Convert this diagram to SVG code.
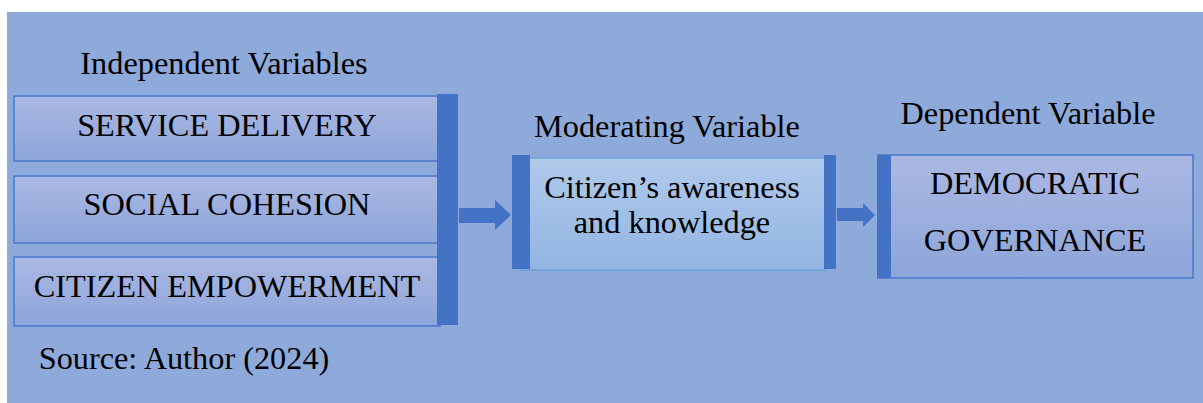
<svg xmlns="http://www.w3.org/2000/svg" width="1203" height="403" viewBox="0 0 1203 403">
<style>
text{font-family:"Liberation Serif","Times New Roman",serif;fill:#000;text-anchor:middle}
.t{font-size:32.3px}
.box{fill:url(#g1);stroke:#4a78cc;stroke-width:1.5}
.bar{fill:#4472c4}
.arr{fill:#4472c4}
</style>
<defs>
<linearGradient id="g1" x1="0" y1="0" x2="0" y2="1">
<stop offset="0" stop-color="#abb8e3"/>
<stop offset="1" stop-color="#8da5d9"/>
</linearGradient>
<linearGradient id="g2" x1="0" y1="0" x2="0" y2="1">
<stop offset="0" stop-color="#afc9ea"/>
<stop offset="1" stop-color="#93b5e3"/>
</linearGradient>
</defs>
<rect x="0" y="0" width="1203" height="403" fill="#fff"/>
<rect x="7" y="12" width="1196" height="391" fill="#8eaadb"/>
<text class="t" x="224" y="74">Independent Variables</text>
<text class="t" x="667" y="137">Moderating Variable</text>
<text class="t" x="1028" y="124">Dependent Variable</text>
<g id="service-delivery">
<rect class="box" x="14" y="96" width="426" height="65"/>
<text class="t" x="227" y="136">SERVICE DELIVERY</text>
</g>
<g id="social-cohesion">
<rect class="box" x="14" y="176" width="426" height="67"/>
<text class="t" x="227" y="215">SOCIAL COHESION</text>
</g>
<g id="citizen-empowerment">
<rect class="box" x="14" y="257" width="426" height="69"/>
<text class="t" x="227" y="297">CITIZEN EMPOWERMENT</text>
</g>
<g id="independent-bar">
<rect class="bar" x="437" y="94" width="21" height="231"/>
</g>
<g id="moderating">
<rect x="520" y="158" width="305" height="112" fill="url(#g2)" stroke="#5b9bd5" stroke-width="1"/>
<rect class="bar" x="512" y="155" width="18" height="114"/>
<rect class="bar" x="824" y="155" width="12" height="114"/>
<text class="t" x="672" y="198">Citizen’s awareness</text>
<text class="t" x="672" y="233">and knowledge</text>
</g>
<g id="dependent">
<rect class="box" x="878" y="155" width="315" height="123"/>
<rect class="bar" x="877" y="155" width="14" height="123"/>
<text class="t" x="1035" y="194">DEMOCRATIC</text>
<text class="t" x="1035" y="251">GOVERNANCE</text>
</g>
<g id="connectors">
<polygon class="arr" points="459,208 495,208 495,200 511,215 495,230 495,223 459,223"/>
<polygon class="arr" points="837,208 863,208 863,203 875,215 863,227 863,221 837,221"/>
</g>
<text class="t" x="184" y="369">Source: Author (2024)</text>
</svg>
